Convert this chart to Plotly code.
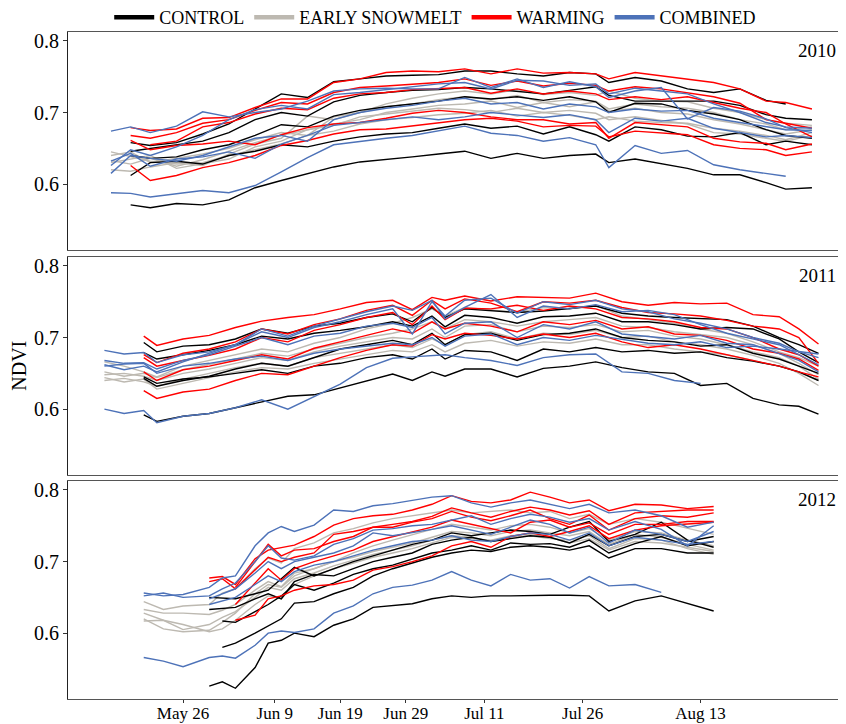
import plotly.graph_objects as go

# ---------------- data (day of year, NDVI per plot) ----------------
DAYS_2010 = [135, 138, 141, 145, 149, 153, 157, 161, 165, 169, 173, 177, 181, 185, 189,
             193, 197, 201, 205, 209, 211, 215, 219, 223, 227, 231, 235, 238, 242]
DAYS_2011 = [134, 137, 140, 142, 146, 150, 154, 158, 162, 166, 170, 174, 178, 181, 184, 186,
             189, 193, 197, 201, 205, 209, 213, 217, 221, 225, 229, 233, 237, 240, 243]
DAYS_2012 = [140, 143, 146, 150, 152, 154, 157, 159, 161, 163, 166, 169, 172, 175, 178,
             181, 184, 187, 190, 193, 196, 199, 202, 205, 208, 211, 215, 219, 223, 227]

N = None

CONTROL_2010 = [
    [N, 0.571, 0.567, 0.573, 0.571, 0.578, 0.595, 0.605, 0.615, 0.624, 0.631, 0.634, 0.638, 0.642, 0.646, 0.636, 0.643, 0.636, 0.640, 0.642, 0.630, 0.635, 0.628, 0.622, 0.613, 0.613, 0.602, 0.593, 0.595],
    [N, 0.612, 0.630, 0.632, 0.628, 0.640, 0.646, 0.655, 0.652, 0.660, 0.666, 0.670, 0.672, 0.678, 0.684, 0.678, 0.681, 0.670, 0.680, 0.669, 0.660, 0.680, 0.676, 0.667, 0.666, 0.672, 0.655, 0.660, 0.655],
    [N, 0.640, 0.636, 0.638, 0.648, 0.655, 0.668, 0.683, 0.680, 0.695, 0.703, 0.708, 0.712, 0.716, 0.722, 0.719, 0.722, 0.717, 0.722, 0.715, 0.700, 0.713, 0.712, 0.703, 0.698, 0.690, 0.676, 0.668, 0.664],
    [N, 0.646, 0.650, 0.655, 0.660, 0.672, 0.690, 0.700, 0.695, 0.715, 0.724, 0.728, 0.731, 0.732, 0.735, 0.733, 0.730, 0.726, 0.731, 0.736, 0.724, 0.716, 0.716, 0.716, 0.716, 0.710, 0.697, 0.692, 0.690],
    [N, 0.658, 0.654, 0.658, 0.670, 0.684, 0.705, 0.726, 0.721, 0.743, 0.747, 0.751, 0.752, 0.753, 0.758, 0.758, 0.754, 0.751, 0.756, 0.754, 0.742, 0.749, 0.744, 0.733, 0.728, 0.733, 0.717, 0.712, N],
]
SNOWMELT_2010 = [
    [0.645, 0.638, 0.632, 0.628, 0.630, 0.640, 0.648, 0.656, 0.668, 0.674, 0.684, 0.690, 0.693, 0.697, 0.699, 0.703, 0.695, 0.700, 0.696, 0.690, 0.694, 0.688, 0.686, 0.685, 0.678, 0.674, 0.668, 0.662, 0.672],
    [0.630, 0.635, 0.640, 0.622, 0.628, 0.635, 0.652, 0.660, 0.676, 0.684, 0.690, 0.700, 0.705, 0.710, 0.712, 0.716, 0.707, 0.714, 0.708, 0.715, 0.702, 0.706, 0.700, 0.698, 0.690, 0.684, 0.676, 0.670, 0.676],
    [0.640, 0.645, 0.630, 0.636, 0.642, 0.650, 0.662, 0.672, 0.668, 0.694, 0.700, 0.708, 0.712, 0.718, 0.722, 0.718, 0.724, 0.714, 0.718, 0.716, 0.705, 0.712, 0.708, 0.706, 0.700, 0.690, 0.684, 0.676, 0.680],
    [0.620, 0.618, 0.624, 0.630, 0.626, 0.642, 0.656, 0.664, 0.695, 0.690, 0.700, 0.712, 0.720, 0.726, 0.730, 0.726, 0.732, 0.725, 0.728, 0.724, 0.730, 0.720, 0.716, 0.715, 0.706, 0.700, 0.690, 0.685, 0.682],
    [0.633, 0.628, 0.636, 0.625, 0.634, 0.646, 0.658, 0.668, 0.676, 0.682, 0.694, 0.698, 0.702, 0.706, 0.704, 0.700, 0.706, 0.700, 0.703, 0.699, 0.690, 0.694, 0.689, 0.684, 0.672, 0.670, 0.664, 0.660, 0.668],
]
WARMING_2010 = [
    [N, 0.679, 0.675, 0.677, 0.692, 0.693, 0.707, 0.719, 0.719, 0.742, 0.747, 0.756, 0.758, 0.757, 0.761, 0.754, 0.761, 0.755, 0.756, 0.754, 0.747, 0.756, 0.751, 0.747, 0.742, 0.733, 0.716, 0.714, 0.705],
    [N, 0.668, 0.664, 0.672, 0.685, 0.690, 0.703, 0.714, 0.712, 0.728, 0.735, 0.737, 0.740, 0.742, 0.747, 0.738, 0.744, 0.737, 0.741, 0.738, 0.730, 0.736, 0.733, 0.727, 0.722, 0.713, 0.690, 0.685, 0.678],
    [N, 0.661, 0.648, 0.654, 0.656, 0.660, 0.655, 0.669, 0.679, 0.684, 0.686, 0.692, 0.699, 0.703, 0.700, 0.694, 0.690, 0.690, 0.684, 0.686, 0.664, 0.686, 0.683, 0.680, 0.664, 0.659, 0.657, 0.648, 0.656],
    [N, 0.626, 0.605, 0.612, 0.623, 0.630, 0.640, 0.654, 0.661, 0.670, 0.676, 0.677, 0.681, 0.686, 0.690, 0.692, 0.688, 0.680, 0.682, 0.681, 0.666, 0.674, 0.672, 0.669, 0.655, 0.650, 0.648, 0.640, 0.645],
    [N, N, 0.655, 0.660, 0.680, 0.686, 0.698, 0.706, 0.704, 0.720, 0.726, 0.728, 0.732, 0.734, 0.735, 0.727, 0.733, 0.726, 0.730, 0.726, 0.718, 0.722, 0.718, 0.722, 0.714, 0.706, 0.700, 0.684, 0.666],
]
COMBINED_2010 = [
    [0.588, 0.587, 0.582, 0.587, 0.591, 0.588, 0.598, 0.617, 0.637, 0.655, 0.660, 0.664, 0.668, 0.674, 0.681, 0.671, 0.668, 0.660, 0.665, 0.655, 0.623, 0.654, 0.643, 0.647, 0.627, 0.620, 0.615, 0.611, N],
    [0.615, 0.640, 0.636, 0.632, 0.640, 0.652, 0.664, 0.668, 0.660, 0.690, 0.700, 0.706, 0.710, 0.716, 0.720, 0.712, 0.714, 0.705, 0.712, 0.708, 0.700, 0.705, 0.702, 0.703, 0.692, 0.686, 0.680, 0.676, 0.675],
    [0.632, 0.643, 0.625, 0.635, 0.638, 0.645, 0.636, 0.656, 0.668, 0.682, 0.686, 0.690, 0.694, 0.690, 0.694, 0.700, 0.696, 0.693, 0.697, 0.690, 0.672, 0.692, 0.688, 0.692, 0.678, 0.672, 0.666, 0.668, 0.665],
    [0.626, 0.648, 0.640, 0.652, 0.668, 0.690, 0.704, 0.710, 0.705, 0.725, 0.728, 0.732, 0.736, 0.740, 0.742, 0.733, 0.745, 0.744, 0.738, 0.740, 0.726, 0.734, 0.730, 0.726, 0.712, 0.700, 0.686, 0.680, 0.678],
    [0.674, 0.680, 0.672, 0.681, 0.701, 0.694, 0.700, 0.705, 0.716, 0.730, 0.733, 0.734, 0.733, 0.733, 0.749, 0.735, 0.747, 0.735, 0.743, 0.736, 0.721, 0.730, 0.735, 0.691, 0.707, 0.702, 0.691, 0.679, 0.672],
]

CONTROL_2011 = [
    [N, N, 0.592, 0.583, 0.590, 0.594, 0.602, 0.610, 0.618, 0.620, 0.630, 0.640, 0.649, 0.640, 0.652, 0.646, 0.656, 0.656, 0.645, 0.657, 0.660, 0.666, 0.658, 0.652, 0.650, 0.633, 0.636, 0.615, 0.606, 0.604, 0.593],
    [N, N, 0.645, 0.636, 0.642, 0.645, 0.650, 0.655, 0.650, 0.660, 0.664, 0.672, 0.676, 0.670, 0.684, 0.670, 0.682, 0.680, 0.668, 0.684, 0.680, 0.686, 0.680, 0.682, 0.678, 0.680, 0.672, 0.667, 0.660, 0.652, 0.640],
    [N, N, 0.693, 0.680, 0.688, 0.690, 0.698, 0.712, 0.706, 0.716, 0.720, 0.728, 0.733, 0.722, 0.742, 0.728, 0.740, 0.738, 0.735, 0.737, 0.740, 0.744, 0.734, 0.730, 0.728, 0.726, 0.725, 0.716, 0.700, 0.690, 0.678],
    [N, N, 0.679, 0.670, 0.676, 0.682, 0.690, 0.702, 0.698, 0.706, 0.710, 0.715, 0.722, 0.716, 0.730, 0.715, 0.731, 0.728, 0.720, 0.729, 0.730, 0.734, 0.722, 0.722, 0.718, 0.712, 0.714, 0.712, 0.698, 0.680, 0.665],
    [N, N, 0.643, 0.632, 0.640, 0.646, 0.656, 0.664, 0.660, 0.672, 0.684, 0.690, 0.696, 0.690, 0.706, 0.690, 0.704, 0.706, 0.696, 0.704, 0.706, 0.712, 0.700, 0.696, 0.694, 0.688, 0.690, 0.678, 0.670, 0.660, 0.650],
]
SNOWMELT_2011 = [
    [0.666, 0.660, 0.652, 0.645, 0.660, 0.668, 0.676, 0.684, 0.680, 0.692, 0.700, 0.712, 0.720, 0.728, 0.740, 0.730, 0.742, 0.738, 0.735, 0.742, 0.740, 0.745, 0.730, 0.725, 0.720, 0.712, 0.706, 0.694, 0.680, 0.672, 0.660],
    [0.648, 0.650, 0.646, 0.640, 0.650, 0.656, 0.664, 0.672, 0.668, 0.680, 0.688, 0.694, 0.700, 0.698, 0.712, 0.700, 0.716, 0.718, 0.708, 0.716, 0.714, 0.718, 0.708, 0.710, 0.702, 0.698, 0.690, 0.680, 0.672, 0.660, 0.642],
    [0.640, 0.643, 0.638, 0.632, 0.642, 0.650, 0.658, 0.664, 0.660, 0.672, 0.678, 0.684, 0.690, 0.686, 0.698, 0.690, 0.704, 0.708, 0.698, 0.706, 0.704, 0.710, 0.700, 0.702, 0.694, 0.690, 0.684, 0.675, 0.664, 0.650, 0.633],
    [0.652, 0.646, 0.650, 0.644, 0.655, 0.662, 0.670, 0.678, 0.674, 0.684, 0.692, 0.700, 0.706, 0.712, 0.722, 0.712, 0.725, 0.722, 0.716, 0.722, 0.725, 0.728, 0.716, 0.714, 0.708, 0.704, 0.700, 0.690, 0.678, 0.664, 0.648],
    [0.644, 0.638, 0.642, 0.628, 0.636, 0.644, 0.652, 0.658, 0.656, 0.664, 0.670, 0.676, 0.682, 0.680, 0.690, 0.680, 0.692, 0.696, 0.688, 0.694, 0.692, 0.698, 0.690, 0.690, 0.684, 0.680, 0.676, 0.668, 0.660, 0.652, 0.640],
]
WARMING_2011 = [
    [N, N, 0.702, 0.689, 0.698, 0.703, 0.714, 0.723, 0.728, 0.732, 0.740, 0.749, 0.752, 0.739, 0.756, 0.752, 0.758, 0.751, 0.757, 0.756, 0.755, 0.762, 0.750, 0.745, 0.749, 0.747, 0.748, 0.732, 0.729, 0.712, 0.691],
    [N, N, 0.676, 0.665, 0.678, 0.684, 0.694, 0.712, 0.705, 0.718, 0.726, 0.738, 0.745, 0.731, 0.752, 0.740, 0.754, 0.748, 0.736, 0.750, 0.748, 0.752, 0.742, 0.735, 0.733, 0.730, 0.724, 0.716, 0.712, 0.700, 0.664],
    [N, N, 0.652, 0.640, 0.655, 0.660, 0.668, 0.676, 0.670, 0.685, 0.694, 0.703, 0.712, 0.706, 0.722, 0.712, 0.720, 0.716, 0.708, 0.722, 0.718, 0.724, 0.712, 0.715, 0.705, 0.703, 0.696, 0.684, 0.678, 0.670, 0.654],
    [N, N, 0.626, 0.615, 0.624, 0.628, 0.640, 0.650, 0.648, 0.660, 0.672, 0.682, 0.690, 0.688, 0.704, 0.698, 0.706, 0.703, 0.698, 0.705, 0.700, 0.706, 0.694, 0.686, 0.690, 0.684, 0.676, 0.668, 0.660, 0.652, 0.645],
    [N, N, 0.672, 0.660, 0.668, 0.675, 0.684, 0.700, 0.694, 0.710, 0.718, 0.728, 0.735, 0.718, 0.744, 0.725, 0.741, 0.740, 0.745, 0.738, 0.744, 0.740, 0.728, 0.726, 0.722, 0.714, 0.712, 0.700, 0.684, 0.676, 0.660],
]
COMBINED_2011 = [
    [0.600, 0.594, 0.598, 0.581, 0.590, 0.594, 0.602, 0.613, 0.600, 0.617, 0.635, 0.658, 0.671, 0.673, 0.675, 0.676, 0.672, 0.668, 0.661, 0.672, 0.676, 0.677, 0.652, 0.650, 0.640, 0.636, N, N, N, N, N],
    [0.682, 0.677, 0.679, 0.665, 0.676, 0.680, 0.690, 0.708, 0.700, 0.714, 0.722, 0.732, 0.740, 0.705, 0.750, 0.730, 0.752, 0.755, 0.734, 0.750, 0.746, 0.752, 0.740, 0.736, 0.726, 0.720, 0.712, 0.700, 0.692, 0.680, 0.672],
    [0.668, 0.664, 0.665, 0.656, 0.668, 0.676, 0.688, 0.700, 0.690, 0.702, 0.706, 0.716, 0.720, 0.714, 0.728, 0.705, 0.720, 0.722, 0.700, 0.718, 0.712, 0.722, 0.705, 0.702, 0.698, 0.703, 0.692, 0.690, 0.678, 0.668, 0.652],
    [0.660, 0.663, 0.664, 0.650, 0.660, 0.664, 0.670, 0.674, 0.668, 0.678, 0.684, 0.688, 0.692, 0.690, 0.700, 0.688, 0.702, 0.705, 0.690, 0.700, 0.696, 0.703, 0.698, 0.692, 0.690, 0.694, 0.686, 0.688, 0.684, 0.680, 0.677],
    [0.662, 0.655, 0.660, 0.652, 0.666, 0.678, 0.690, 0.712, 0.702, 0.716, 0.726, 0.736, 0.744, 0.738, 0.752, 0.726, 0.742, 0.760, 0.728, 0.744, 0.740, 0.746, 0.736, 0.738, 0.732, 0.718, 0.706, 0.698, 0.690, 0.676, 0.662],
]

CONTROL_2012 = [
    [N, N, N, 0.526, 0.532, 0.523, 0.552, 0.586, 0.590, 0.600, 0.595, 0.611, 0.620, 0.636, 0.638, 0.641, 0.648, 0.652, 0.650, 0.652, 0.652, 0.653, 0.653, 0.653, 0.652, 0.631, 0.645, 0.652, 0.641, 0.631],
    [N, N, N, N, 0.580, 0.586, 0.600, 0.610, 0.620, 0.642, 0.644, 0.655, 0.664, 0.680, 0.690, 0.698, 0.706, 0.712, 0.716, 0.714, 0.720, 0.722, 0.720, 0.716, 0.722, 0.705, 0.718, 0.718, 0.712, 0.712],
    [N, N, N, N, 0.617, 0.615, 0.630, 0.640, 0.652, 0.668, 0.660, 0.670, 0.682, 0.690, 0.695, 0.704, 0.712, 0.716, 0.722, 0.716, 0.726, 0.724, 0.725, 0.720, 0.730, 0.712, 0.725, 0.735, 0.722, 0.728],
    [N, N, N, 0.633, 0.634, 0.636, 0.648, 0.655, 0.648, 0.672, 0.682, 0.680, 0.690, 0.700, 0.706, 0.712, 0.724, 0.730, 0.734, 0.728, 0.732, 0.736, 0.734, 0.726, 0.738, 0.722, 0.735, 0.738, 0.728, 0.735],
    [N, N, N, 0.650, 0.649, 0.648, 0.655, 0.660, 0.676, 0.692, 0.680, 0.690, 0.700, 0.708, 0.716, 0.724, 0.730, 0.740, 0.736, 0.740, 0.744, 0.742, 0.738, 0.748, 0.756, 0.728, 0.738, 0.755, 0.730, 0.720],
]
SNOWMELT_2012 = [
    [0.644, 0.633, 0.638, 0.640, 0.656, 0.662, 0.690, 0.705, 0.698, 0.718, 0.726, 0.740, 0.746, 0.754, 0.760, 0.764, 0.768, 0.772, 0.768, 0.770, 0.772, 0.768, 0.770, 0.760, 0.766, 0.752, 0.760, 0.755, 0.746, 0.738],
    [0.633, 0.628, 0.628, 0.626, 0.632, 0.640, 0.660, 0.672, 0.665, 0.684, 0.690, 0.700, 0.706, 0.714, 0.720, 0.726, 0.734, 0.742, 0.740, 0.736, 0.742, 0.744, 0.740, 0.736, 0.742, 0.724, 0.738, 0.734, 0.724, 0.716],
    [0.617, 0.618, 0.605, 0.612, 0.622, 0.630, 0.650, 0.664, 0.660, 0.676, 0.684, 0.694, 0.702, 0.710, 0.716, 0.722, 0.730, 0.736, 0.734, 0.728, 0.734, 0.736, 0.732, 0.730, 0.736, 0.718, 0.732, 0.730, 0.718, 0.710],
    [0.628, 0.618, 0.612, 0.602, 0.606, 0.618, 0.640, 0.652, 0.648, 0.668, 0.680, 0.690, 0.698, 0.706, 0.712, 0.718, 0.726, 0.734, 0.732, 0.730, 0.736, 0.738, 0.734, 0.726, 0.732, 0.716, 0.728, 0.726, 0.720, 0.714],
    [0.620, 0.606, 0.602, 0.604, 0.615, 0.628, 0.655, 0.668, 0.664, 0.680, 0.690, 0.700, 0.712, 0.722, 0.730, 0.738, 0.745, 0.752, 0.748, 0.744, 0.750, 0.752, 0.748, 0.740, 0.746, 0.730, 0.742, 0.740, 0.730, 0.722],
]
WARMING_2012 = [
    [N, N, N, 0.677, 0.679, 0.668, 0.704, 0.716, 0.719, 0.723, 0.735, 0.751, 0.760, 0.764, 0.766, 0.772, 0.780, 0.792, 0.784, 0.782, 0.786, 0.797, 0.790, 0.782, 0.786, 0.771, 0.780, 0.779, 0.774, 0.777],
    [N, N, N, N, N, 0.664, 0.700, 0.724, 0.708, 0.716, 0.718, 0.728, 0.735, 0.748, 0.752, 0.756, 0.763, 0.775, 0.768, 0.762, 0.770, 0.776, 0.772, 0.765, 0.771, 0.752, 0.768, 0.770, 0.772, 0.772],
    [N, N, N, N, N, 0.640, 0.670, 0.690, 0.674, 0.690, 0.700, 0.708, 0.716, 0.728, 0.735, 0.742, 0.748, 0.758, 0.752, 0.745, 0.740, 0.755, 0.758, 0.748, 0.754, 0.738, 0.752, 0.752, 0.756, 0.756],
    [N, N, N, N, N, 0.618, 0.625, 0.648, 0.652, 0.660, 0.666, 0.668, 0.674, 0.688, 0.693, 0.700, 0.708, 0.722, 0.728, 0.720, 0.735, 0.740, 0.735, 0.742, 0.750, 0.732, 0.744, 0.750, 0.752, 0.755],
    [N, N, N, 0.672, 0.676, 0.662, 0.688, 0.706, 0.700, 0.706, 0.712, 0.738, 0.742, 0.748, 0.748, 0.755, 0.760, 0.770, 0.762, 0.757, 0.764, 0.772, 0.760, 0.752, 0.765, 0.744, 0.760, 0.764, 0.762, 0.768],
]
COMBINED_2012 = [
    [0.566, 0.561, 0.553, 0.566, 0.568, 0.565, 0.583, 0.600, 0.603, 0.601, 0.606, 0.628, 0.638, 0.655, 0.664, 0.667, 0.674, 0.686, 0.674, 0.666, 0.682, 0.674, 0.676, 0.663, 0.679, 0.666, 0.668, 0.657, N, N],
    [0.652, 0.656, 0.650, 0.652, 0.662, 0.670, 0.700, 0.722, 0.705, 0.702, 0.708, 0.724, 0.732, 0.744, 0.746, 0.750, 0.752, 0.758, 0.764, 0.752, 0.760, 0.766, 0.762, 0.755, 0.760, 0.744, 0.756, 0.745, 0.722, 0.750],
    [N, N, N, 0.648, 0.655, 0.662, 0.684, 0.700, 0.690, 0.700, 0.706, 0.712, 0.722, 0.740, 0.736, 0.740, 0.745, 0.750, 0.744, 0.738, 0.748, 0.758, 0.752, 0.740, 0.748, 0.726, 0.744, 0.738, 0.728, 0.742],
    [N, N, N, 0.640, 0.645, 0.650, 0.668, 0.680, 0.672, 0.686, 0.695, 0.700, 0.708, 0.716, 0.722, 0.728, 0.730, 0.736, 0.730, 0.728, 0.735, 0.740, 0.738, 0.730, 0.740, 0.722, 0.734, 0.730, 0.724, 0.728],
    [0.656, 0.652, 0.654, 0.664, 0.677, 0.680, 0.722, 0.740, 0.749, 0.742, 0.751, 0.772, 0.770, 0.778, 0.781, 0.785, 0.790, 0.792, 0.782, 0.776, 0.782, 0.786, 0.780, 0.774, 0.780, 0.768, 0.772, 0.764, 0.748, 0.755],
]

TREATMENTS = ["CONTROL", "EARLY SNOWMELT", "WARMING", "COMBINED"]
COLORS = ["#000000", "#bdb9b1", "#ff0000", "#4d72b8"]
YEARS = ["2010", "2011", "2012"]
TICK_DAYS = [146, 160, 170, 180, 192, 207, 225]
TICK_LABELS = ["May 26", "Jun 9", "Jun 19", "Jun 29", "Jul 11", "Jul 26", "Aug 13"]

panels = [
    (DAYS_2010, [CONTROL_2010, SNOWMELT_2010, WARMING_2010, COMBINED_2010]),
    (DAYS_2011, [CONTROL_2011, SNOWMELT_2011, WARMING_2011, COMBINED_2011]),
    (DAYS_2012, [CONTROL_2012, SNOWMELT_2012, WARMING_2012, COMBINED_2012]),
]

FONT = "Liberation Serif"
fig = go.Figure()
draw_order = [1, 0, 2, 3]
for p, (days, groups) in enumerate(panels):
    xa = "x" if p == 0 else f"x{p + 1}"
    ya = "y" if p == 0 else f"y{p + 1}"
    for t in draw_order:
        for vals in groups[t]:
            assert len(vals) == len(days)
            fig.add_trace(go.Scatter(
                x=days, y=vals, mode="lines", xaxis=xa, yaxis=ya,
                line=dict(color=COLORS[t], width=1.4),
                showlegend=False, hoverinfo="skip"))

for t, name in enumerate(TREATMENTS):
    fig.add_trace(go.Scatter(x=[None], y=[None], mode="lines", name=name,
                             line=dict(color=COLORS[t], width=4.5),
                             xaxis="x", yaxis="y", showlegend=True))

# page body has an 8px default margin, so the figure is 8px smaller and offset
domains = [[0.6732, 1.0], [0.3358, 0.6627], [0.0, 0.3268]]
XR = [128.44, 247.2]
YR = [0.508, 0.8125]
layout = dict(
    width=838, height=716,
    margin=dict(l=60, r=0, t=24, b=25, autoexpand=False),
    paper_bgcolor="white", plot_bgcolor="white",
    font=dict(family=FONT, size=18, color="black"),
    showlegend=True,
    legend=dict(orientation="h", x=0.472, xanchor="center", y=1.0215, yanchor="middle",
                font=dict(family=FONT, size=18), bgcolor="rgba(0,0,0,0)",
                itemwidth=40, tracegroupgap=0),
)
for p in range(3):
    xk = "xaxis" if p == 0 else f"xaxis{p + 1}"
    yk = "yaxis" if p == 0 else f"yaxis{p + 1}"
    ya = "y" if p == 0 else f"y{p + 1}"
    xa = "x" if p == 0 else f"x{p + 1}"
    layout[xk] = dict(
        domain=[0, 1], anchor=ya, range=XR, showgrid=False, zeroline=False,
        showline=True, mirror=True, linecolor="#555555", linewidth=1.3,
        tickvals=TICK_DAYS, ticktext=TICK_LABELS,
        showticklabels=(p == 2), ticks="outside" if p == 2 else "",
        ticklen=3, tickcolor="#333333", ticklabelstandoff=-5,
        tickfont=dict(family=FONT, size=17),
    )
    layout[yk] = dict(
        domain=domains[p], anchor=xa, range=YR, showgrid=False, zeroline=False,
        showline=True, linecolor="#222222", linewidth=1.2,
        tickvals=[0.6, 0.7, 0.8], ticktext=["0.6", "0.7", "0.8"],
        ticks="outside", ticklen=4, tickcolor="#333333",
        tickfont=dict(family=FONT, size=20),
    )
fig.update_layout(**layout)

for p, yr in enumerate(YEARS):
    xa = "x" if p == 0 else f"x{p + 1}"
    ya = "y" if p == 0 else f"y{p + 1}"
    fig.add_annotation(text=yr, xref=f"{xa} domain", yref=f"{ya} domain",
                       x=0.99, y=0.917, xanchor="right", yanchor="middle",
                       showarrow=False, font=dict(family=FONT, size=19))

fig.add_annotation(text="NDVI", xref="paper", yref="paper", x=-0.064, y=0.5,
                   xanchor="center", yanchor="middle", textangle=-90,
                   showarrow=False, font=dict(family=FONT, size=20))

fig.write_html("out.html")
